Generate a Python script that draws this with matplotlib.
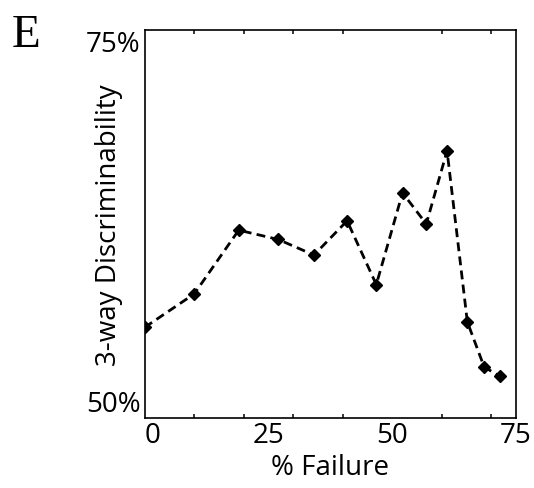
import matplotlib
matplotlib.use("Agg")
import matplotlib.pyplot as plt

# data
failure = [0, 10, 19, 27, 34.2, 40.9, 46.8, 52.1, 56.9, 61.1, 65.2, 68.6, 71.8]
discrim = [55.85, 58.0, 62.1, 61.5, 60.5, 62.7, 58.6, 64.5, 62.5, 67.2, 56.2, 53.3, 52.7]

xtick_vals = [0, 25, 50, 75]
xtick_labels = ['0', '25', '50', '75']
ytick_vals = [50, 75]
ytick_labels = ['50%', '75%']

plt.rcParams['font.family'] = ['Open Sans', 'DejaVu Sans']
fs = 20

fig = plt.figure(figsize=(5.34, 4.89), dpi=100)
ax = fig.add_axes([0.271, 0.1425, 0.695, 0.795])

ax.plot(failure, discrim, color='black', lw=2, dashes=[3.2, 1.9],
        marker='D', markersize=6.5, markerfacecolor='black', markeredgecolor='black')

ax.set_xlim(0, 75)
ax.set_ylim(50, 75)

# minor ticks (inward, top and bottom), labels on major ticks only
ax.set_xticks(range(0, 80, 10), minor=True)
ax.set_xticks(xtick_vals)
ax.set_xticklabels(xtick_labels, fontsize=fs)
ax.tick_params(axis='x', which='major', length=0, pad=2)
ax.tick_params(axis='x', which='minor', direction='in', length=3, width=1.1, top=True, bottom=True)
ax.get_xticklabels()[0].set_ha('left')

ax.set_yticks(ytick_vals)
ax.set_yticklabels(ytick_labels, fontsize=fs)
ax.tick_params(axis='y', length=0, pad=3)
ylabs = ax.get_yticklabels()
ylabs[0].set_va('bottom')
ylabs[1].set_va('top')

for s in ax.spines.values():
    s.set_linewidth(1.2)

ax.set_xlabel('% Failure', fontsize=fs, labelpad=3)
ax.set_ylabel('3-way Discriminability', fontsize=fs)
ax.yaxis.set_label_coords(-0.058, 0.5)

fig.text(12 / 534, 1 - 47 / 489, 'E', family='Liberation Serif', fontsize=34,
         ha='left', va='baseline')

fig.savefig('out.png', dpi=100)
